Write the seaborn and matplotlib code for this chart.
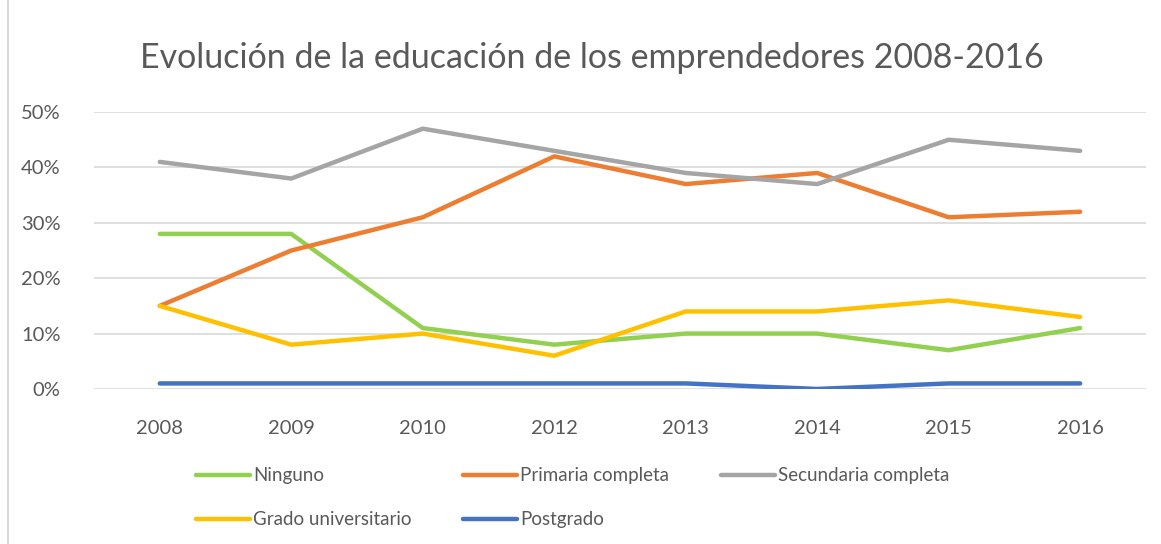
import matplotlib
matplotlib.use("Agg")
import matplotlib.pyplot as plt
import seaborn as sns
import pandas as pd
from matplotlib.patches import Rectangle

years = ["2008", "2009", "2010", "2012", "2013", "2014", "2015", "2016"]
ninguno = [28, 28, 11, 8, 10, 10, 7, 11]
primaria = [15, 25, 31, 42, 37, 39, 31, 32]
secundaria = [41, 38, 47, 43, 39, 37, 45, 43]
grado = [15, 8, 10, 6, 14, 14, 16, 13]
postgrado = [1, 1, 1, 1, 1, 0, 1, 1]

series_names = ["Ninguno", "Primaria completa", "Secundaria completa",
                "Grado universitario", "Postgrado"]
series_values = [ninguno, primaria, secundaria, grado, postgrado]
colors = ["#92D050", "#ED7D31", "#A5A5A5", "#FFC000", "#4472C4"]

rows = []
for name, vals in zip(series_names, series_values):
    for y, v in zip(years, vals):
        rows.append({"year": y, "value": v / 100, "serie": name})
df = pd.DataFrame(rows)

sns.set_style("white")
plt.rcParams['font.family'] = ['Lato', 'DejaVu Sans']
text_color = "#595959"

fig = plt.figure(figsize=(11.61, 5.44), dpi=100)
ax = fig.add_axes([0.081, 0.285, 0.906, 0.509])

sns.lineplot(data=df, x="year", y="value", hue="serie", hue_order=series_names,
             palette=colors, linewidth=3.2, ax=ax, legend=False,
             solid_capstyle="round", solid_joinstyle="round")

ax.set_xlim(-0.5, len(years) - 0.5)
ax.set_ylim(0, 0.5)
ax.set_yticks([0, 0.1, 0.2, 0.3, 0.4, 0.5])
ax.set_yticklabels(["0%", "10%", "20%", "30%", "40%", "50%"])
ax.yaxis.grid(True, color="#D9D9D9", linewidth=1.2)
ax.set_axisbelow(True)
for s in ax.spines.values():
    s.set_visible(False)
ax.tick_params(axis="both", length=0, labelsize=14.5, colors=text_color)
ax.tick_params(axis="x", pad=22)
ax.tick_params(axis="y", pad=24)
ax.set_xlabel("")
ax.set_ylabel("")

fig.text(0.51, 0.893, "Evolución de la educación de los emprendedores 2008-2016",
         ha="center", va="center", fontsize=24.5, color=text_color)

handles = [plt.Line2D([], [], color=c, linewidth=3.2, solid_capstyle="round")
           for c in colors]
order = [0, 3, 1, 4, 2]
leg = fig.legend([handles[i] for i in order], [series_names[i] for i in order],
                 ncol=3, loc="upper left", bbox_to_anchor=(0.162, 0.155),
                 frameon=False, fontsize=13.5, handlelength=2.9, handletextpad=0.15,
                 columnspacing=2.75, labelspacing=1.45, borderaxespad=0)
for t in leg.get_texts():
    t.set_color(text_color)

fig.patches.append(Rectangle((0.007, -0.01), 1.5, 1.5, transform=fig.transFigure,
                             fill=False, edgecolor="#D9D9D9", linewidth=1.5))

fig.savefig("out.png", dpi=100)
